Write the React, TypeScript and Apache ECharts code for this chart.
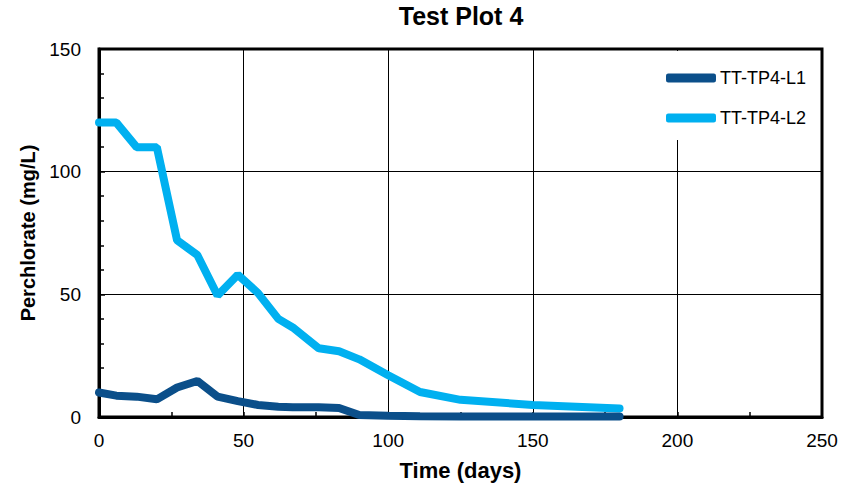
import React, { useEffect, useRef } from "react";
import * as echarts from "echarts";

const days = [0, 6, 13, 20, 27, 34, 41, 48, 55, 62, 67, 76, 83, 90, 100, 111, 125, 150, 180];
const l1 = [10, 8.7, 8.3, 7.2, 12, 14.7, 8.3, 6.5, 4.9, 4.2, 4, 4, 3.7, 0.8, 0.5, 0.3, 0.2, 0.2, 0.2];
const l2 = [120, 120, 110, 110, 72, 66, 49.5, 58, 50.5, 40, 36.5, 28, 26.8, 23.5, 17, 10.2, 7, 4.9, 3.5];
const seriesNames = ["TT-TP4-L1", "TT-TP4-L2"];
const colors = ["#0B4F8A", "#00B0F0"];
const FONT = "Liberation Sans, Arial, sans-serif";

export default function App() {
  const ref = useRef<HTMLDivElement>(null);
  useEffect(() => {
    const chart = echarts.init(ref.current!, null, { renderer: "svg" });
    const toPairs = (ys: number[]) => days.map((d, i) => [d, ys[i]]);
    chart.setOption({
      animation: false,
      backgroundColor: "#fff",
      title: {
        text: "Test Plot 4",
        left: 461,
        textAlign: "center",
        top: 3,
        padding: 0,
        textStyle: { fontFamily: FONT, fontWeight: "bold", fontSize: 25, color: "#000" },
      },
      grid: {
        left: 99,
        right: 41,
        top: 49,
        bottom: 72,
        show: true,
        borderColor: "#000",
        borderWidth: 3,
        backgroundColor: "transparent",
      },
      legend: {
        left: 652,
        top: 51,
        orient: "vertical",
        backgroundColor: "#fff",
        padding: [18, 12, 13, 14],
        itemGap: 22,
        itemWidth: 50,
        itemHeight: 9,
        icon: "roundRect",
        textStyle: { fontFamily: FONT, fontSize: 18, color: "#000", padding: [0, 0, 0, -1] },
        data: seriesNames,
      },
      xAxis: {
        type: "value",
        min: 0,
        max: 250,
        interval: 50,
        name: "Time (days)",
        nameLocation: "middle",
        nameGap: 42,
        nameTextStyle: { fontFamily: FONT, fontWeight: "bold", fontSize: 22, color: "#000" },
        axisLine: { show: true, onZero: false, lineStyle: { color: "#000", width: 3 } },
        axisTick: { show: true, inside: true, length: 5, lineStyle: { color: "#000", width: 1.5 } },
        minorTick: { show: true, splitNumber: 2, length: 5, lineStyle: { color: "#000", width: 1.5 } },
        axisLabel: { fontFamily: FONT, fontSize: 19, color: "#000", margin: 14 },
        splitLine: { show: true, lineStyle: { color: "#000", width: 1 } },
      },
      yAxis: {
        type: "value",
        min: 0,
        max: 150,
        interval: 50,
        name: "Perchlorate (mg/L)",
        nameLocation: "middle",
        nameGap: 53,
        nameTextStyle: { fontFamily: FONT, fontWeight: "bold", fontSize: 20, color: "#000" },
        axisLine: { show: true, lineStyle: { color: "#000", width: 3 } },
        axisTick: { show: true, inside: true, length: 6, lineStyle: { color: "#000", width: 1.5 } },
        minorTick: { show: true, splitNumber: 5, length: 5, lineStyle: { color: "#000", width: 1.5 } },
        axisLabel: { fontFamily: FONT, fontSize: 19, color: "#000", margin: 18 },
        splitLine: { show: true, lineStyle: { color: "#000", width: 1 } },
      },
      series: [
        {
          name: seriesNames[0],
          type: "line",
          data: toPairs(l1),
          showSymbol: false,
          symbol: "none",
          color: colors[0],
          lineStyle: { width: 8, color: colors[0], cap: "round", join: "bevel" },
          z: 3,
        },
        {
          name: seriesNames[1],
          type: "line",
          data: toPairs(l2),
          showSymbol: false,
          symbol: "none",
          color: colors[1],
          lineStyle: { width: 8, color: colors[1], cap: "round", join: "bevel" },
          z: 2,
        },
      ],
    });
    return () => chart.dispose();
  }, []);
  return <div ref={ref} style={{ width: 863, height: 489, position: "absolute", left: 0, top: 0 }} />;
}
